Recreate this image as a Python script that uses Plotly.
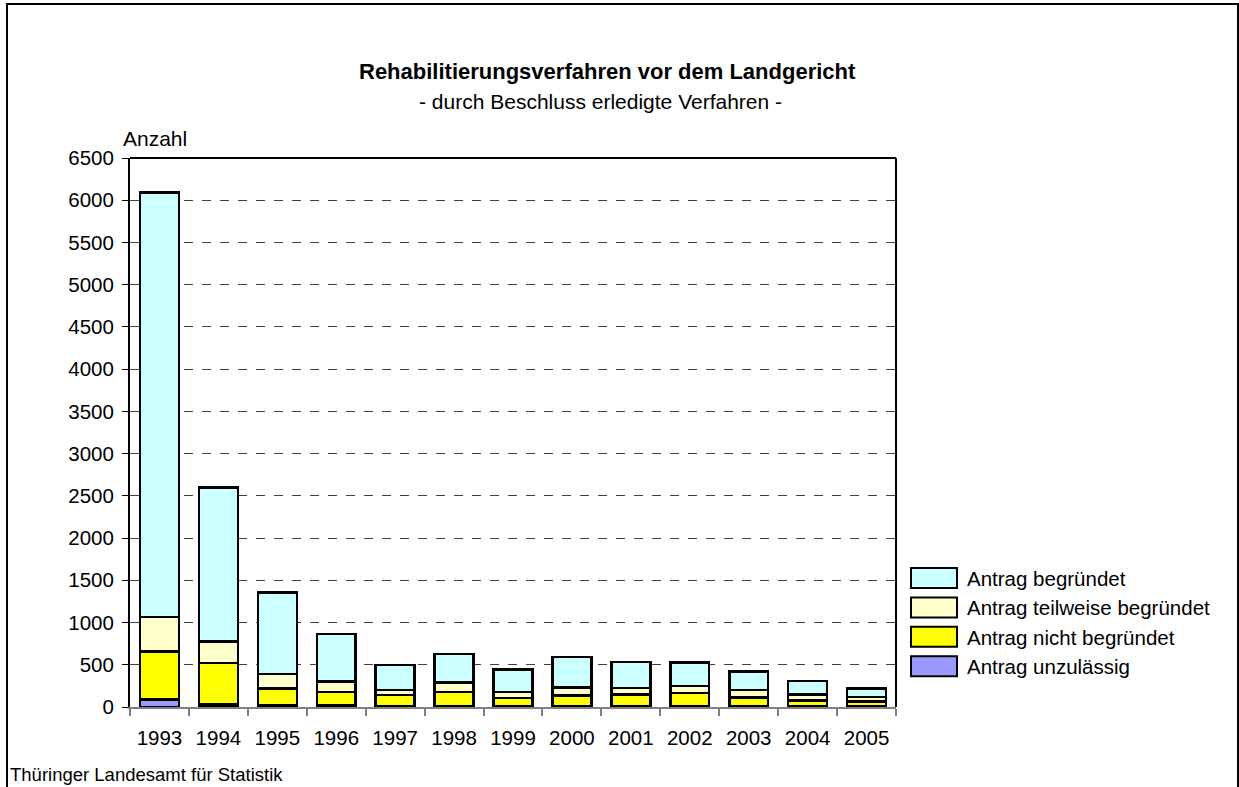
import plotly.graph_objects as go

years = ["1993", "1994", "1995", "1996", "1997", "1998", "1999", "2000", "2001", "2002", "2003", "2004", "2005"]
unzulaessig = [90, 30, 20, 20, 10, 10, 8, 8, 8, 8, 8, 5, 5]
nicht_begruendet = [565, 490, 200, 160, 130, 170, 100, 131, 143, 159, 107, 74, 62]
teilweise_begruendet = [410, 255, 170, 120, 60, 110, 72, 91, 75, 83, 87, 72, 52]
begruendet = [5025, 1825, 965, 565, 295, 335, 262, 362, 304, 278, 219, 159, 103]
y_ticks = list(range(0, 6501, 500))

W, H = 1239, 787
L, R, T, B = 130, 896, 158, 707

FONT = "Arial, Liberation Sans, sans-serif"

fig = go.Figure()
series = [
    ("Antrag unzulässig", unzulaessig, "#9999FF"),
    ("Antrag nicht begründet", nicht_begruendet, "#FFFF00"),
    ("Antrag teilweise begründet", teilweise_begruendet, "#FFFFCC"),
    ("Antrag begründet", begruendet, "#CCFFFF"),
]
for name, vals, col in series:
    fig.add_trace(go.Bar(x=years, y=vals, name=name,
                         marker=dict(color=col, line=dict(color="black", width=2.5))))


def px2paper_x(px):
    return (px - L) / (R - L)


def px2paper_y(py):
    return (B - py) / (B - T)


fig.update_layout(
    width=W, height=H,
    margin=dict(l=L, r=W - R, t=T, b=H - B, pad=0),
    barmode="stack",
    bargap=0.34,
    plot_bgcolor="white",
    paper_bgcolor="white",
    font=dict(family=FONT, size=21, color="black"),
    showlegend=False,
    xaxis=dict(
        type="category", showline=True, linecolor="#808080", linewidth=2,
        ticks="outside", tickson="boundaries", ticklen=7, tickcolor="#808080", tickwidth=2,
        showgrid=False, tickfont=dict(size=20.5), ticklabelstandoff=11,
    ),
    yaxis=dict(
        range=[0, 6500], tickvals=y_ticks, showline=True, linecolor="black", linewidth=2,
        ticks="outside", ticklen=6, tickcolor="black",
        showgrid=True, gridcolor="#404040", griddash="dash", gridwidth=1,
        zeroline=False, tickfont=dict(size=20.5), ticklabelstandoff=4,
    ),
)

# plot frame top and right
fig.add_shape(type="line", xref="paper", yref="paper", x0=0, x1=1, y0=1, y1=1,
              line=dict(color="black", width=2))
fig.add_shape(type="line", xref="paper", yref="paper", x0=1, x1=1, y0=0, y1=1,
              line=dict(color="black", width=2))
# outer border
fig.add_shape(type="rect", xref="paper", yref="paper",
              x0=px2paper_x(7), x1=px2paper_x(1238), y0=px2paper_y(H + 5), y1=px2paper_y(4),
              line=dict(color="black", width=2))

# manual legend (large swatches as in the original)
legend_top = 568
step = 29.4
for i, (name, vals, col) in enumerate(reversed(series)):
    y0 = legend_top + i * step
    fig.add_shape(type="rect", xref="paper", yref="paper",
                  x0=px2paper_x(911), x1=px2paper_x(957),
                  y0=px2paper_y(y0 + 20), y1=px2paper_y(y0),
                  fillcolor=col, line=dict(color="black", width=2))
    fig.add_annotation(text=name, xref="paper", yref="paper",
                       x=px2paper_x(965), y=px2paper_y(y0 + 10.5), xanchor="left", yanchor="middle",
                       showarrow=False, font=dict(size=20.5))

fig.add_annotation(text="<b>Rehabilitierungsverfahren vor dem Landgericht</b>", xref="paper", yref="paper",
                   x=px2paper_x(607), y=px2paper_y(72), xanchor="center", yanchor="middle",
                   showarrow=False, font=dict(size=22))
fig.add_annotation(text="- durch Beschluss erledigte Verfahren -", xref="paper", yref="paper",
                   x=px2paper_x(600), y=px2paper_y(101), xanchor="center", yanchor="middle",
                   showarrow=False, font=dict(size=21))
fig.add_annotation(text="Anzahl", xref="paper", yref="paper",
                   x=px2paper_x(121), y=px2paper_y(138), xanchor="left", yanchor="middle",
                   showarrow=False, font=dict(size=21))
fig.add_annotation(text="Thüringer Landesamt für Statistik", xref="paper", yref="paper",
                   x=px2paper_x(8), y=px2paper_y(774), xanchor="left", yanchor="middle",
                   showarrow=False, font=dict(size=18.5))

fig.write_html("out.html", config={"displayModeBar": False},
               post_script="document.body.style.margin='0';document.body.style.overflow='hidden';")
